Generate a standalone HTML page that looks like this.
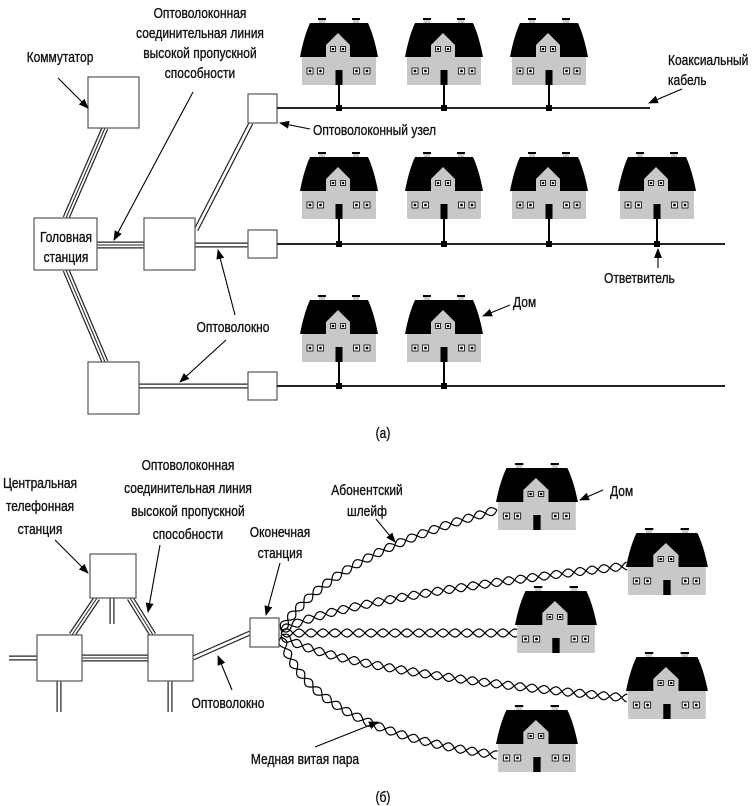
<!DOCTYPE html>
<html><head><meta charset="utf-8"><style>
html,body{margin:0;padding:0;background:#fff}
svg{display:block}
text{font-family:"Liberation Sans Narrow","Liberation Sans",sans-serif;font-size:15px;fill:#111;stroke:#111;stroke-width:0.35}
</style></head><body>
<svg id="s" width="752" height="806" viewBox="0 0 752 806" xmlns="http://www.w3.org/2000/svg">
<defs>
<marker id="ah" markerWidth="10" markerHeight="8" refX="9" refY="4" orient="auto" markerUnits="userSpaceOnUse">
<path d="M0,0 L10,4 L0,8 Z" fill="#000"/></marker>
<g id="house">
<rect x="18" y="0" width="8" height="2" fill="#000"/><rect x="19" y="2" width="6" height="4" fill="#ccc"/>
<rect x="52" y="0" width="8" height="2" fill="#000"/><rect x="53" y="2" width="6" height="4" fill="#ccc"/>
<rect x="2" y="39" width="74" height="28" fill="#c8c8c8"/>
<path d="M10,5 L68,5 Q74,18 78,39 L0,39 Q4,18 10,5 Z" fill="#000"/>
<path d="M26,67 L26,27 L38,15 L50,27 L50,67 Z" fill="#c8c8c8"/>
<g fill="#fff" stroke="#000" stroke-width="0.8">
<rect x="30.5" y="28.5" width="5" height="5"/><rect x="40.5" y="28.5" width="5" height="5"/>
<rect x="7" y="50" width="6" height="6"/><rect x="17.5" y="50" width="6" height="6"/>
<rect x="53.5" y="50" width="6" height="6"/><rect x="64" y="50" width="6" height="6"/></g>
<g fill="#000"><circle cx="33" cy="31" r="1.3"/><circle cx="43" cy="31" r="1.3"/>
<circle cx="10" cy="53" r="1.4"/><circle cx="20.5" cy="53" r="1.4"/><circle cx="56.5" cy="53" r="1.4"/><circle cx="67" cy="53" r="1.4"/>
<rect x="35.5" y="52" width="7" height="15"/></g>
</g>
</defs>

<g id="cables"></g>
<g fill="#fff" stroke="#555" stroke-width="1.2">
<rect x="88" y="77" width="51" height="51"/>
<rect x="34" y="218" width="63" height="52"/>
<rect x="144" y="218" width="51" height="52"/>
<rect x="88" y="362" width="51" height="52"/>
<rect x="248" y="94" width="29" height="29"/>
<rect x="248" y="230" width="29" height="28"/>
<rect x="248" y="372" width="29" height="28"/>
</g>

<g stroke="#222" stroke-width="2">
<line x1="277" y1="108" x2="650" y2="108"/>
<line x1="277" y1="244" x2="725" y2="244"/>
<line x1="277" y1="386" x2="725" y2="386"/>
</g>
<g id="ha"></g>

<g id="txt">
<g text-anchor="middle">
<text x="66" y="242">Головная</text>
<text x="66" y="262">станция</text>
<text x="200" y="18">Оптоволоконная</text>
<text x="200" y="38">соединительная линия</text>
<text x="200" y="58">высокой пропускной</text>
<text x="200" y="78">способности</text>
<text x="60" y="62">Коммутатор</text>
<text x="233" y="332">Оптоволокно</text>
<text x="383" y="438">(а)</text>
</g>
<text x="313" y="135">Оптоволоконный узел</text>
<text x="668" y="65">Коаксиальный</text>
<text x="668" y="85">кабель</text>
<text x="604" y="283">Ответвитель</text>
<text x="513" y="307">Дом</text>
</g>
<g stroke="#000" stroke-width="1.1" marker-end="url(#ah)" fill="none">
<line x1="58" y1="78" x2="88" y2="108"/>
<line x1="193" y1="92" x2="114" y2="240"/>
<line x1="310" y1="129" x2="280" y2="123"/>
<line x1="682" y1="89" x2="649" y2="103"/>
<line x1="658" y1="268" x2="658" y2="249"/>
<line x1="235" y1="315" x2="218" y2="250"/>
<line x1="226" y1="340" x2="180" y2="382"/>
<line x1="510" y1="305" x2="483" y2="316"/>
</g>

<g id="pairs" fill="none" stroke="#000" stroke-width="1.2"></g>
<g fill="#fff" stroke="#555" stroke-width="1.2">
<rect x="90" y="554" width="46" height="44"/>
<rect x="37" y="635" width="45" height="46"/>
<rect x="148" y="635" width="45" height="46"/>
<rect x="250" y="618" width="29" height="29"/>
</g>
<g id="hb"></g>
<g id="txt2">
<g text-anchor="middle">
<text x="40" y="488">Центральная</text>
<text x="40" y="511">телефонная</text>
<text x="40" y="534">станция</text>
<text x="188" y="470">Оптоволоконная</text>
<text x="188" y="493">соединительная линия</text>
<text x="188" y="516">высокой пропускной</text>
<text x="188" y="539">способности</text>
<text x="280" y="537">Оконечная</text>
<text x="280" y="558">станция</text>
<text x="367" y="495">Абонентский</text>
<text x="367" y="516">шлейф</text>
<text x="228" y="708">Оптоволокно</text>
<text x="305" y="764">Медная витая пара</text>
<text x="383" y="802">(б)</text>
</g>
<text x="610" y="496">Дом</text>
</g>
<g stroke="#000" stroke-width="1.1" marker-end="url(#ah)" fill="none">
<line x1="55" y1="540" x2="88" y2="573"/>
<line x1="160" y1="545" x2="148" y2="612"/>
<line x1="280" y1="563" x2="266" y2="615"/>
<line x1="376" y1="519" x2="395" y2="542"/>
<line x1="603" y1="490" x2="580" y2="500"/>
<line x1="232" y1="690" x2="218" y2="656"/>
<line x1="315" y1="747" x2="378" y2="722"/>
</g>
</svg>
<script>
var NS="http://www.w3.org/2000/svg";
function el(p,n,a){var e=document.createElementNS(NS,n);for(var k in a)e.setAttribute(k,a[k]);p.appendChild(e);return e;}
var cab=document.getElementById('cables');
function dbl(x1,y1,x2,y2){el(cab,'line',{x1:x1,y1:y1,x2:x2,y2:y2,stroke:'#222','stroke-width':5});el(cab,'line',{x1:x1,y1:y1,x2:x2,y2:y2,stroke:'#fff','stroke-width':2.6});}
function tri(x1,y1,x2,y2){el(cab,'line',{x1:x1,y1:y1,x2:x2,y2:y2,stroke:'#222','stroke-width':7});el(cab,'line',{x1:x1,y1:y1,x2:x2,y2:y2,stroke:'#fff','stroke-width':4.6});el(cab,'line',{x1:x1,y1:y1,x2:x2,y2:y2,stroke:'#222','stroke-width':1});}
tri(105,128,66,218);tri(66,270,105,362);tri(97,245,144,245);
dbl(196,230,251,123);dbl(195,245,248,245);dbl(139,386,248,386);
tri(97,598,72,635);tri(130,598,153,635);tri(82,658,148,658);
dbl(112,598,112,624);dbl(9,658,37,658);dbl(59,681,59,712);dbl(170,681,170,712);dbl(193,658,250,633);
var ha=document.getElementById('ha');
function houseA(x,y,ly){el(ha,'use',{href:'#house',x:x,y:y});el(ha,'line',{x1:x+39,y1:y+67,x2:x+39,y2:ly,stroke:'#000','stroke-width':2});el(ha,'rect',{x:x+36,y:ly-3,width:6,height:6,fill:'#000'});}
[300,405,510].forEach(function(x){houseA(x,18,108);});
[300,405,510,618].forEach(function(x){houseA(x,152,244);});
[300,405].forEach(function(x){houseA(x,295,386);});
var hb=document.getElementById('hb');
[[496,463],[626,528],[515,586],[626,652],[496,705]].forEach(function(p){el(hb,'use',{href:'#house',transform:'translate('+p[0]+','+p[1]+') scale(1.05,1)'});});
var pr=document.getElementById('pairs');
function pair(x0,y0,cx,cy,x1,y1){
 var N=400,pts=[],len=0,px=x0,py=y0;
 for(var i=0;i<=N;i++){var t=i/N,x=(1-t)*(1-t)*x0+2*(1-t)*t*cx+t*t*x1,y=(1-t)*(1-t)*y0+2*(1-t)*t*cy+t*t*y1;
  len+=Math.hypot(x-px,y-py);px=x;py=y;
  var dx=2*(1-t)*(cx-x0)+2*t*(x1-cx),dy=2*(1-t)*(cy-y0)+2*t*(y1-cy),d=Math.hypot(dx,dy);
  pts.push([x,y,-dy/d,dx/d,len]);}
 [0,Math.PI].forEach(function(ph){var s='';pts.forEach(function(p,i){var a=4*Math.sin(p[4]*2*Math.PI/24+ph);s+=(i?'L':'M')+(p[0]+p[2]*a).toFixed(1)+','+(p[1]+p[3]*a).toFixed(1);});el(pr,'path',{d:s});});
}
pair(281,630,330,555,497,510);
pair(281,631,330,600,627,566);
pair(281,633,400,633,517,633);
pair(281,635,330,670,627,698);
pair(281,637,310,730,497,755);
document.querySelectorAll('#txt text,#txt2 text').forEach(function(t){
 try{var w=t.getComputedTextLength();t.setAttribute('textLength',(w*0.8).toFixed(1));t.setAttribute('lengthAdjust','spacingAndGlyphs');}catch(e){}
});
</script>
</body></html>
